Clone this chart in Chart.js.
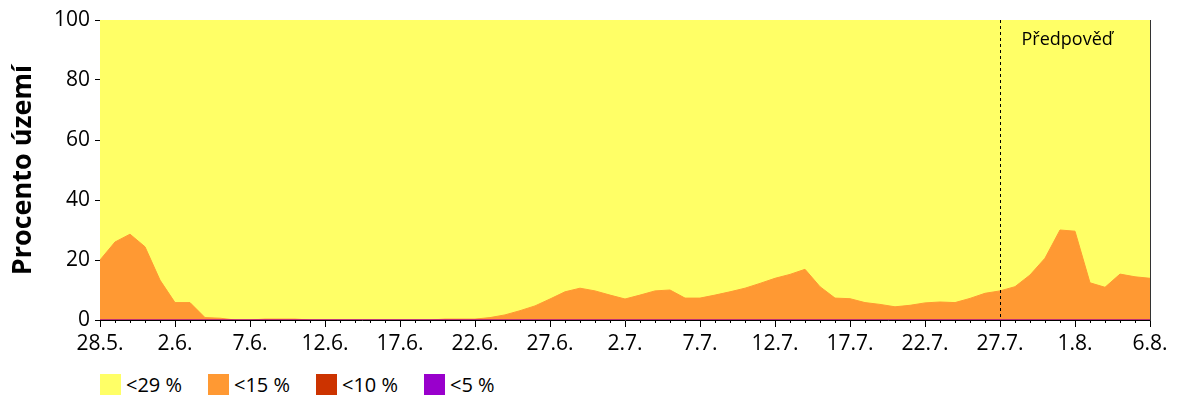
<!DOCTYPE html>
<html>
<head>
<meta charset="utf-8">
<script src="https://cdn.jsdelivr.net/npm/chart.js@4/dist/chart.umd.min.js"></script>
<style>
  body { margin: 0; background: #fff; }
  #wrap { width: 1200px; height: 400px; position: relative; }
  #box { width: 1200px; height: 360px; position: relative; }
  #legend { position: absolute; left: 100px; top: 373px; display: flex; font-family: "Open Sans", sans-serif; font-size: 20px; line-height: 23px; color: #000; }
  #legend .item { display: flex; align-items: center; width: 108px; }
  #legend .sw { width: 21px; height: 21px; margin-right: 5px; }
</style>
</head>
<body>
<div id="wrap">
  <div id="box"><canvas id="grafica"></canvas></div>
  <div id="legend"></div>
</div>
<script>
var dny = ['28.5.','29.5.','30.5.','31.5.','1.6.','2.6.','3.6.','4.6.','5.6.','6.6.',
  '7.6.','8.6.','9.6.','10.6.','11.6.','12.6.','13.6.','14.6.','15.6.','16.6.',
  '17.6.','18.6.','19.6.','20.6.','21.6.','22.6.','23.6.','24.6.','25.6.','26.6.',
  '27.6.','28.6.','29.6.','30.6.','1.7.','2.7.','3.7.','4.7.','5.7.','6.7.',
  '7.7.','8.7.','9.7.','10.7.','11.7.','12.7.','13.7.','14.7.','15.7.','16.7.',
  '17.7.','18.7.','19.7.','20.7.','21.7.','22.7.','23.7.','24.7.','25.7.','26.7.',
  '27.7.','28.7.','29.7.','30.7.','31.7.','1.8.','2.8.','3.8.','4.8.','5.8.','6.8.'];

var pod29 = [100,100,100,100,100,100,100,100,100,100,
  100,100,100,100,100,100,100,100,100,100,
  100,100,100,100,100,100,100,100,100,100,
  100,100,100,100,100,100,100,100,100,100,
  100,100,100,100,100,100,100,100,100,100,
  100,100,100,100,100,100,100,100,100,100,
  100,100,100,100,100,100,100,100,100,100,100];

var pod15 = [20,26,28.6,24.4,13.3,5.8,5.8,0.8,0.6,0,
  0,0.3,0.3,0.3,0,0,0,0,0,0,
  0,0,0,0.3,0.3,0.3,0.8,1.7,3.1,4.7,
  7,9.4,10.6,9.7,8.3,7,8.3,9.7,10,7.3,
  7.3,8.3,9.4,10.6,12.2,13.9,15.2,16.9,11.1,7.3,
  7.1,5.8,5.2,4.4,4.9,5.7,6,5.8,7.2,8.9,
  9.7,11.1,15,20.6,30,29.6,12.4,10.9,15.3,14.4,13.9];

var pod10 = new Array(dny.length).fill(0);
var pod5 = new Array(dny.length).fill(0);

var iPredpoved = 60;

var barvy = {
  yellow: '#FFFF66',
  orange: '#FF9933',
  red: '#CC3300',
  purple: '#9900CC'
};

var predpovedPlugin = {
  id: 'predpoved',
  afterDatasetsDraw: function(chart) {
    var ctx = chart.ctx;
    var area = chart.chartArea;
    var x = Math.round(chart.scales.x.getPixelForValue(iPredpoved)) + 0.5;
    ctx.save();
    ctx.strokeStyle = '#000';
    ctx.lineWidth = 1;
    ctx.setLineDash([3, 3]);
    ctx.beginPath();
    ctx.moveTo(x, area.top);
    ctx.lineTo(x, area.bottom);
    ctx.stroke();
    ctx.setLineDash([]);
    ctx.fillStyle = '#000';
    ctx.font = '18px "Open Sans"';
    ctx.textBaseline = 'alphabetic';
    ctx.fillText('Předpověď', x + 21, area.top + 25);
    ctx.restore();
  }
};

function serie(label, data, color) {
  return {
    label: label,
    data: data,
    borderColor: color,
    backgroundColor: color,
    borderWidth: 1,
    pointRadius: 0,
    tension: 0,
    fill: 'origin'
  };
}

var datasets = [
  serie('<5 %', pod5, barvy.purple),
  serie('<10 %', pod10, barvy.red),
  serie('<15 %', pod15, barvy.orange),
  serie('<29 %', pod29, barvy.yellow)
];

Chart.defaults.font.family = '"Open Sans", sans-serif';
Chart.defaults.color = '#000';

new Chart(document.getElementById('grafica'), {
  type: 'line',
  data: { labels: dny, datasets: datasets },
  plugins: [predpovedPlugin],
  options: {
    responsive: true,
    maintainAspectRatio: false,
    animation: false,
    layout: { padding: { top: 20, right: 49, left: 0, bottom: 0 } },
    plugins: {
      legend: { display: false },
      tooltip: { enabled: false }
    },
    scales: {
      x: {
        offset: false,
        grid: {
          drawOnChartArea: false,
          tickLength: 7,
          tickColor: '#000',
          tickBorderDash: function(c) { return c.index % 5 === 0 ? [] : [2, 20]; }
        },
        border: { color: '#000' },
        ticks: {
          autoSkip: false,
          maxRotation: 0,
          padding: 4,
          font: { size: 21 },
          callback: function(v, i) { return i % 5 === 0 ? dny[i] : ''; }
        },
        afterFit: function(s) { s.height = 40; }
      },
      y: {
        min: 0,
        max: 100,
        ticks: { stepSize: 20, padding: 5, font: { size: 21 } },
        grid: { drawOnChartArea: false, tickLength: 5, tickColor: '#000' },
        border: { color: '#000' },
        title: {
          display: true,
          text: 'Procento území',
          font: { size: 27, weight: 'bold' },
          padding: { top: 7, bottom: 0 }
        },
        afterFit: function(s) { s.width = 100; }
      },
      y2: {
        position: 'right',
        min: 0,
        max: 100,
        ticks: { display: false },
        grid: { drawOnChartArea: false, drawTicks: false },
        border: { color: '#333' },
        afterFit: function(s) { s.width = 1; }
      }
    }
  }
});

var legenda = document.getElementById('legend');
datasets.slice().reverse().forEach(function(d) {
  var item = document.createElement('div');
  item.className = 'item';
  var sw = document.createElement('span');
  sw.className = 'sw';
  sw.style.background = d.backgroundColor;
  var t = document.createElement('span');
  t.textContent = d.label;
  item.appendChild(sw);
  item.appendChild(t);
  legenda.appendChild(item);
});
</script>
</body>
</html>
